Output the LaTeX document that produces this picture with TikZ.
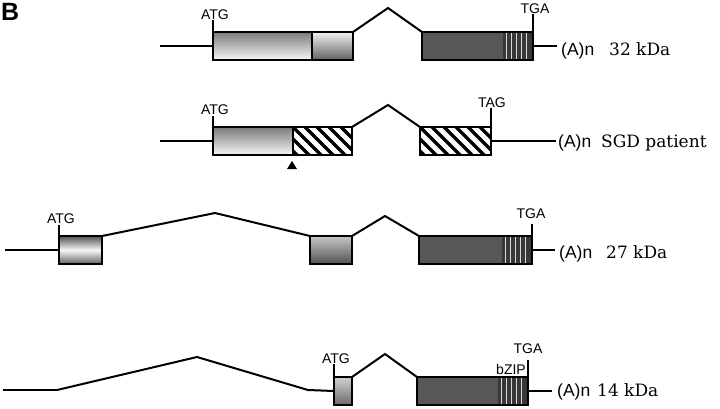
\documentclass[tikz,border=0pt]{standalone}
\usepackage{fontspec}
\newfontfamily\sansf{Liberation Sans}
\newfontfamily\seriff{DejaVu Serif}
\begin{document}
\begin{tikzpicture}[x=1pt,y=-1pt,
  exon/.style={draw=black, line width=1.3pt, anchor=north west, inner sep=0pt, outer sep=0pt, minimum height=28pt},
  darkexon/.style={exon, fill=black!66},
  intron/.style={line width=2pt, line join=miter},
  utr/.style={line width=2.8pt},
  tail/.style={line width=1.6pt},
  tick/.style={line width=1.4pt},
  codon/.style={font=\sansf\fontsize{14}{14}\selectfont, inner sep=0pt, anchor=base},
  polya/.style={font=\sansf\fontsize{17.5}{17.5}\selectfont, inner sep=0pt, anchor=base west},
  size/.style={font=\seriff\fontsize{17}{17}\selectfont, inner sep=0pt, anchor=base west},
  stripe/.style={draw=black!15, line width=1pt},
  band/.style={fill=black!78},
  hatchline/.style={line width=3.2pt}
]
\useasboundingbox (0,0) rectangle (720,408);

\node[font=\sansf\bfseries\fontsize{25}{25}\selectfont, inner sep=0pt, anchor=base west] (lab) at (1,20) {B};

% ---------- Row 1 : 32 kDa ----------
\coordinate (s1) at (160,46);
\node[exon, minimum width=99pt, top color=black!52, bottom color=black!3] (e1a) at (213,32) {};
\node[exon, minimum width=41pt, top color=black!5, bottom color=black!62] (e1b) at (312,32) {};
\node[darkexon, minimum width=111pt] (e1c) at (422,32) {};
\coordinate (p1) at (388,8);
\coordinate (t1) at (557,46);
\draw[utr] (s1) -- (e1a.west);
\draw[intron] (e1b.north east) -- (p1) -- (e1c.north west);
\draw[tail] (e1c.east) -- (t1);
\node[codon] (atg1) at (215,19) {ATG};
\draw[tick] (e1a.north west) -- ++(0,-12);
\node[codon] (tga1) at (535,13) {TGA};
\draw[tick] (e1c.north east) -- ++(0,-18);
\node[polya] (a1) at (561,55) {(A)n};
\node[size] (k1) at (609,55) {32 kDa};

% ---------- Row 2 : SGD patient ----------
\coordinate (s2) at (160,141);
\node[exon, minimum width=80pt, top color=black!52, bottom color=black!3] (e2a) at (213,127) {};
\node[exon, minimum width=59pt, fill=white] (e2b) at (293,127) {};
\node[exon, minimum width=71pt, fill=white] (e2c) at (420,127) {};
\coordinate (p2) at (388,105);
\coordinate (t2) at (556,141);
\draw[utr] (s2) -- (e2a.west);
\draw[intron] (e2b.north east) -- (p2) -- (e2c.north west);
\draw[tail] (e2c.east) -- (t2);
\node[codon] (atg2) at (215,114) {ATG};
\draw[tick] (e2a.north west) -- ++(0,-11);
\node[codon] (tag2) at (492,107) {TAG};
\draw[tick] (e2c.north east) -- ++(0,-19);
\fill (292,161) -- (297,169) -- (287,169) -- cycle;
\node[polya] (a2) at (558,147) {(A)n};
\node[size] (k2) at (601,147) {SGD patient};

% ---------- Row 3 : 27 kDa ----------
\coordinate (s3) at (5,250);
\node[exon, minimum width=43pt, top color=black!68, bottom color=black!62, middle color=black!3] (e3a) at (59,236) {};
\node[exon, minimum width=42pt, top color=black!22, bottom color=black!68] (e3b) at (310,236) {};
\node[darkexon, minimum width=113pt] (e3c) at (419,236) {};
\coordinate (p3a) at (215,213);
\coordinate (p3b) at (385,216);
\coordinate (t3) at (555,250);
\draw[utr] (s3) -- (e3a.west);
\draw[intron] (e3a.north east) -- (p3a) -- (e3b.north west);
\draw[intron] (e3b.north east) -- (p3b) -- (e3c.north west);
\draw[tail] (e3c.east) -- (t3);
\node[codon] (atg3) at (61,223) {ATG};
\draw[tick] (e3a.north west) -- ++(0,-11);
\node[codon] (tga3) at (531,218) {TGA};
\draw[tick] (e3c.north east) -- ++(0,-12);
\node[polya] (a3) at (559,258) {(A)n};
\node[size] (k3) at (606,258) {27 kDa};

% ---------- Row 4 : 14 kDa ----------
\coordinate (s4) at (3,390);
\coordinate (b4a) at (57,390);
\coordinate (p4a) at (197,357);
\coordinate (b4b) at (308,390);
\node[exon, minimum width=18pt, top color=black!18, bottom color=black!58] (e4a) at (334,377) {};
\node[darkexon, minimum width=111pt] (e4b) at (417,377) {};
\coordinate (p4b) at (385,354);
\coordinate (t4) at (552,391);
\draw[utr] (s4) -- (b4a);
\draw[intron] (b4a) -- (p4a) -- (b4b) -- (e4a.west);
\draw[intron] (e4a.north east) -- (p4b) -- (e4b.north west);
\draw[tail] (e4b.east) -- (t4);
\node[codon] (atg4) at (336,363) {ATG};
\draw[tick] (e4a.north west) -- ++(0,-13);
\node[codon] (tga4) at (528,353) {TGA};
\draw[tick] (e4b.north east) -- ++(0,-17);
\node[codon, anchor=base east] (bzip) at (526,374) {bZIP};
\node[polya] (a4) at (557,396) {(A)n};
\node[size] (k4) at (597,396) {14 kDa};

% ---------- bZIP stripes in the dark exons ----------
\foreach \b in {e1c,e3c,e4b}{
  \fill[band] ([xshift=-30pt,yshift=-0.7pt]\b.north east) rectangle ([xshift=-0.7pt,yshift=0.7pt]\b.south east);
  \foreach \d in {27,22,17,12,7}{
    \draw[stripe] ([xshift=-\d pt,yshift=-0.7pt]\b.north east) -- ([xshift=-\d pt,yshift=0.7pt]\b.south east);
  }
}

% ---------- hatching of the frameshifted exons ----------
\foreach \b in {e2b,e2c}{
  \begin{scope}
    \clip (\b.north west) rectangle (\b.south east);
    \foreach \i in {-36,-24,...,84}{
      \draw[hatchline] ([xshift=\i pt]\b.north west) -- ++(30,30);
    }
  \end{scope}
  \draw[line width=1.3pt] (\b.north west) rectangle (\b.south east);
}
\end{tikzpicture}
\end{document}
